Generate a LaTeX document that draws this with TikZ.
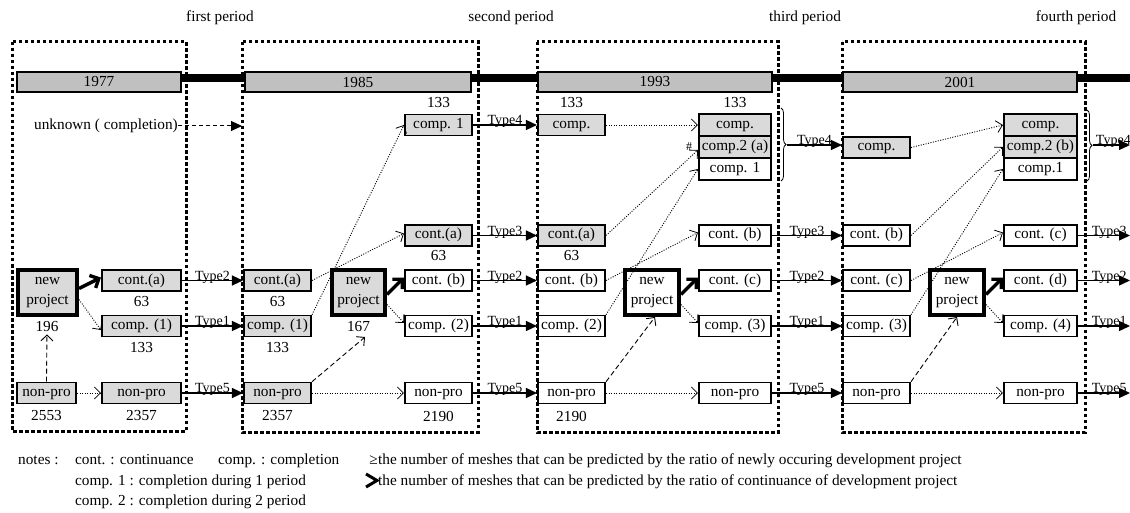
\documentclass[tikz,border=0pt]{standalone}
\usepackage{fontspec}
\setmainfont{Liberation Serif}
\usetikzlibrary{arrows.meta,decorations.pathreplacing,calc}
\definecolor{boxgray}{RGB}{218,218,218}
\definecolor{bargray}{RGB}{192,192,192}
\begin{document}
\begin{tikzpicture}[x=1pt,y=-1pt,
  every node/.append style={font=\fontsize{15.3}{20}\selectfont},
  bx/.style={draw, line width=1.6pt, inner sep=0pt, minimum height=21pt, text height=10.5pt, text depth=3.5pt},
  gb/.style={bx, fill=boxgray},
  wb/.style={bx, fill=white},
  lw/.style={minimum width=67.5pt},
  npb/.style={draw, line width=4pt, inner sep=0pt, align=center, minimum height=45pt},
  bar/.style={draw, line width=1.6pt, fill=bargray, minimum height=20.5pt, inner sep=0pt},
  num/.style={inner sep=0pt},
  frame/.style={line width=3pt, dash pattern=on 3.5pt off 2.5pt},
  typ/.style={line width=1.3pt, -{Triangle[length=11pt,width=10pt]}},
  tlab/.style={font=\fontsize{14}{14}\selectfont, above, inner sep=0pt, yshift=-3.5pt},
  dotarr/.style={line width=0.9pt, dash pattern=on 1pt off 1.5pt, -{Straight Barb[length=6pt,width=12pt,line width=0.8pt]}},
  thickarr/.style={line width=3.4pt, -{Straight Barb[length=7pt,width=14pt]}},
  dasharr/.style={line width=0.9pt, dash pattern=on 5pt off 3pt, -{Straight Barb[length=6pt,width=12pt,line width=0.9pt]}},
  unkarr/.style={line width=1pt, dash pattern=on 4pt off 3pt, -{Triangle[length=11pt,width=10pt]}},
  brc/.style={decorate, decoration={brace, amplitude=5pt}, line width=0.8pt},
  note/.style={anchor=base west, inner sep=0pt}
]
\useasboundingbox (0,0) rectangle (1130,513);

% period labels
\node (p1) at (220,18) {first period};
\node (p2) at (511,18) {second period};
\node (p3) at (805,18) {third period};
\node (p4) at (1076,18) {fourth period};

% frames
\draw[frame] (12,42) rectangle (186,431);
\draw[frame] (242,42) rectangle (478,432);
\draw[frame] (537,42) rectangle (778,432);
\draw[frame] (842,42) rectangle (1085,432);

% timeline
\draw[line width=7.5pt] (180,78) -- (1130,78);
\node[bar, minimum width=164pt] (y1) at (99,82) {1977};
\node[bar, minimum width=226.5pt] (y2) at (358,82) {1985};
\node[bar, minimum width=234.5pt] (y3) at (655,82) {1993};
\node[bar, minimum width=234.5pt] (y4) at (960,82) {2001};

% unknown
\node[anchor=east, inner sep=0pt] (unk) at (178,126) {unknown ( completion)};
\coordinate (unkend) at (242,126);
\draw[unkarr] (unk.east) -- (unkend);

% ---------- period 1
\node[npb, fill=boxgray, minimum width=59pt] (np1) at (47.5,292.5) {new\\project};
\node[gb, minimum width=79.5pt] (c1a) at (141.5,280.5) {cont.(a)};
\node[gb, minimum width=79.5pt] (c1b) at (141.5,326) {comp. (1)};
\node[gb, minimum width=59.5pt] (n1a) at (46.5,393) {non-pro};
\node[gb, minimum width=79.5pt] (n1b) at (141.5,393) {non-pro};
\node[num] (t196) at (47,327) {196};
\node[num] (t1a) at (141.5,302) {63};
\node[num] (t1b) at (141.5,348) {133};
\node[num] (t1c) at (46.5,416) {2553};
\node[num] (t1d) at (141.5,416) {2357};

\draw[thickarr] ([yshift=4pt]np1.east) -- ([yshift=3pt]c1a.west);
\draw[dotarr] ([yshift=-7pt]np1.east) -- ([yshift=-4pt]c1b.west);
\draw[dotarr] (n1a.east) -- (n1b.west);
\draw[dasharr, shorten >=2pt] (n1a.north) -- (t196.south);

% ---------- period 2
\node[gb, lw] (l2a) at (277.5,280.5) {cont.(a)};
\node[gb, lw] (l2b) at (277.5,326) {comp. (1)};
\node[gb, lw] (l2c) at (277.5,393) {non-pro};
\node[npb, fill=boxgray, minimum width=53pt] (np2) at (358.5,292.5) {new\\project};
\node[gb, lw] (r2a) at (438.5,125) {comp. 1};
\node[gb, lw] (r2b) at (438.5,235.5) {cont.(a)};
\node[wb, lw] (r2c) at (438.5,280.5) {cont. (b)};
\node[wb, lw] (r2d) at (438.5,326) {comp. (2)};
\node[wb, lw] (r2e) at (438.5,393) {non-pro};
\node[num] (t2a) at (438.5,103) {133};
\node[num] (t2b) at (438.5,256) {63};
\node[num] (t2c) at (277.5,302) {63};
\node[num] (t2d) at (277.5,348) {133};
\node[num] (t2e) at (358.5,327) {167};
\node[num] (t2f) at (277.5,416) {2357};
\node[num] (t2g) at (438.5,416) {2190};
\coordinate (np2in) at (365,337);

\draw[dotarr] (l2a.east) -- ([yshift=2pt]r2b.west);
\draw[dotarr] (l2b.north east) -- (r2a.west);
\draw[thickarr] ([yshift=-2pt]np2.east) -- ([yshift=3pt]r2c.west);
\draw[dotarr] ([yshift=-12pt]np2.east) -- ([yshift=3pt]r2d.west);
\draw[dasharr] (l2c.north east) -- (np2in);
\draw[dotarr] (l2c.east) -- (r2e.west);

\draw[typ] (c1a.east) -- node[tlab] (ty12a) {Type2} (l2a.west);
\draw[typ] (c1b.east) -- node[tlab] (ty12b) {Type1} (l2b.west);
\draw[typ] (n1b.east) -- node[tlab] (ty12c) {Type5} (l2c.west);

% ---------- period 3
\node[gb, lw] (l3a) at (571.5,125) {comp.};
\node[gb, lw] (l3b) at (571.5,235.5) {cont.(a)};
\node[wb, lw] (l3c) at (571.5,280.5) {cont. (b)};
\node[wb, lw] (l3d) at (571.5,326) {comp. (2)};
\node[wb, lw] (l3e) at (571.5,393) {non-pro};
\node[npb, fill=white, minimum width=54pt] (np3) at (652,292.5) {new\\project};
\node[gb, minimum width=72.5pt, minimum height=22pt] (s3a) at (735,125) {comp.};
\node[gb, minimum width=72.5pt, minimum height=22pt] (s3b) at (735,147) {comp.2 (a)};
\node[wb, minimum width=72.5pt, minimum height=22pt] (s3c) at (735,169) {comp. 1};
\node[wb, minimum width=72.5pt] (r3b) at (735,235.5) {cont. (b)};
\node[wb, minimum width=72.5pt] (r3c) at (735,280.5) {cont. (c)};
\node[wb, minimum width=72.5pt] (r3d) at (735,326) {comp. (3)};
\node[wb, minimum width=72.5pt] (r3e) at (735,393) {non-pro};
\node[num] (t3a) at (571.5,103) {133};
\node[num] (t3b) at (735,103) {133};
\node[num] (t3c) at (571.5,256) {63};
\node[num] (t3d) at (571.5,416) {2190};
\node[inner sep=0pt, font=\fontsize{12}{12}\selectfont] (hash) at (689,147) {\#};

\draw[dotarr] (l3a.east) -- (s3a.west);
\draw[dotarr] (l3b.east) -- ([yshift=-3pt]s3b.west);
\draw[dotarr] (l3d.north east) -- (s3c.west);
\draw[dotarr] (l3c.east) -- ([yshift=3pt]r3b.west);
\draw[thickarr] ([yshift=-2pt]np3.east) -- ([yshift=3pt]r3c.west);
\draw[dotarr] ([yshift=-12pt]np3.east) -- ([yshift=3pt]r3d.west);
\draw[dasharr] (l3e.north east) -- ([xshift=3pt]np3.south);
\draw[dotarr] (l3e.east) -- (r3e.west);

\draw[typ] (r2a.east) -- node[tlab] (ty23a) {Type4} (l3a.west);
\draw[typ] (r2b.east) -- node[tlab] (ty23b) {Type3} (l3b.west);
\draw[typ] (r2c.east) -- node[tlab] (ty23c) {Type2} (l3c.west);
\draw[typ] (r2d.east) -- node[tlab] (ty23d) {Type1} (l3d.west);
\draw[typ] (r2e.east) -- node[tlab] (ty23e) {Type5} (l3e.west);

\draw[brc] (781,108) -- (781,181);
\coordinate (br3) at (787,145);

% ---------- period 4
\node[gb, lw] (l4a) at (876.5,147.5) {comp.};
\node[wb, lw] (l4b) at (876.5,235.5) {cont. (b)};
\node[wb, lw] (l4c) at (876.5,280.5) {cont. (c)};
\node[wb, lw] (l4d) at (876.5,326) {comp. (3)};
\node[wb, lw] (l4e) at (876.5,393) {non-pro};
\node[npb, fill=white, minimum width=54pt] (np4) at (957,292.5) {new\\project};
\node[gb, minimum width=73.5pt, minimum height=22pt] (s4a) at (1040.5,125) {comp.};
\node[gb, minimum width=73.5pt, minimum height=22pt] (s4b) at (1040.5,147) {comp.2 (b)};
\node[wb, minimum width=73.5pt, minimum height=22pt] (s4c) at (1040.5,169) {comp.1};
\node[wb, minimum width=73.5pt] (r4b) at (1040.5,235.5) {cont. (c)};
\node[wb, minimum width=73.5pt] (r4c) at (1040.5,280.5) {cont. (d)};
\node[wb, minimum width=73.5pt] (r4d) at (1040.5,326) {comp. (4)};
\node[wb, minimum width=73.5pt] (r4e) at (1040.5,393) {non-pro};

\draw[dotarr] (l4a.east) -- (s4a.west);
\draw[dotarr] (l4b.east) -- (s4b.west);
\draw[dotarr] (l4c.east) -- ([yshift=3pt]r4b.west);
\draw[dotarr] (l4d.north east) -- (s4c.west);
\draw[thickarr] ([yshift=-2pt]np4.east) -- ([yshift=3pt]r4c.west);
\draw[dotarr] ([yshift=-12pt]np4.east) -- ([yshift=3pt]r4d.west);
\draw[dasharr] (l4e.north east) -- (np4.south);
\draw[dotarr] (l4e.east) -- (r4e.west);

\draw[typ] (br3) -- node[tlab] (ty34a) {Type4} (br3 -| l4a.west);
\draw[typ] (r3b.east) -- node[tlab] (ty34b) {Type3} (l4b.west);
\draw[typ] (r3c.east) -- node[tlab] (ty34c) {Type2} (l4c.west);
\draw[typ] (r3d.east) -- node[tlab] (ty34d) {Type1} (l4d.west);
\draw[typ] (r3e.east) -- node[tlab] (ty34e) {Type5} (l4e.west);

\draw[brc] (1087,110) -- (1087,181);
\coordinate (br4) at (1093,145);
\coordinate (redge) at (1130,0);
\draw[typ] (br4) -- node[tlab, pos=0.55] (ty4a) {Type4} (br4 -| redge);
\draw[typ] (r4b.east) -- node[tlab, pos=0.6] (ty4b) {Type3} (r4b.east -| redge);
\draw[typ] (r4c.east) -- node[tlab, pos=0.6] (ty4c) {Type2} (r4c.east -| redge);
\draw[typ] (r4d.east) -- node[tlab, pos=0.6] (ty4d) {Type1} (r4d.east -| redge);
\draw[typ] (r4e.east) -- node[tlab, pos=0.6] (ty4e) {Type5} (r4e.east -| redge);

% ---------- notes
\node[note] (n0) at (18,464) {notes :};
\node[note] (n1) at (75,464) {cont. : continuance};
\node[note] (n2) at (218,464) {comp. : completion};
\node[note] (n3) at (75,485) {comp. 1 : completion during 1 period};
\node[note] (n4) at (75,505) {comp. 2 : completion during 2 period};
\node[anchor=base east, inner sep=0pt] (lg1s) at (378,464) {≥};
\node[note] (lg1) at (378,464) {the number of meshes that can be predicted by the ratio of newly occuring development project};
\draw[line width=3pt, line join=miter] (366,474) -- (377,480.5) -- (366,487);
\node[note] (lg2) at (378,485) {the number of meshes that can be predicted by the ratio of continuance of development project};
\end{tikzpicture}
\end{document}
